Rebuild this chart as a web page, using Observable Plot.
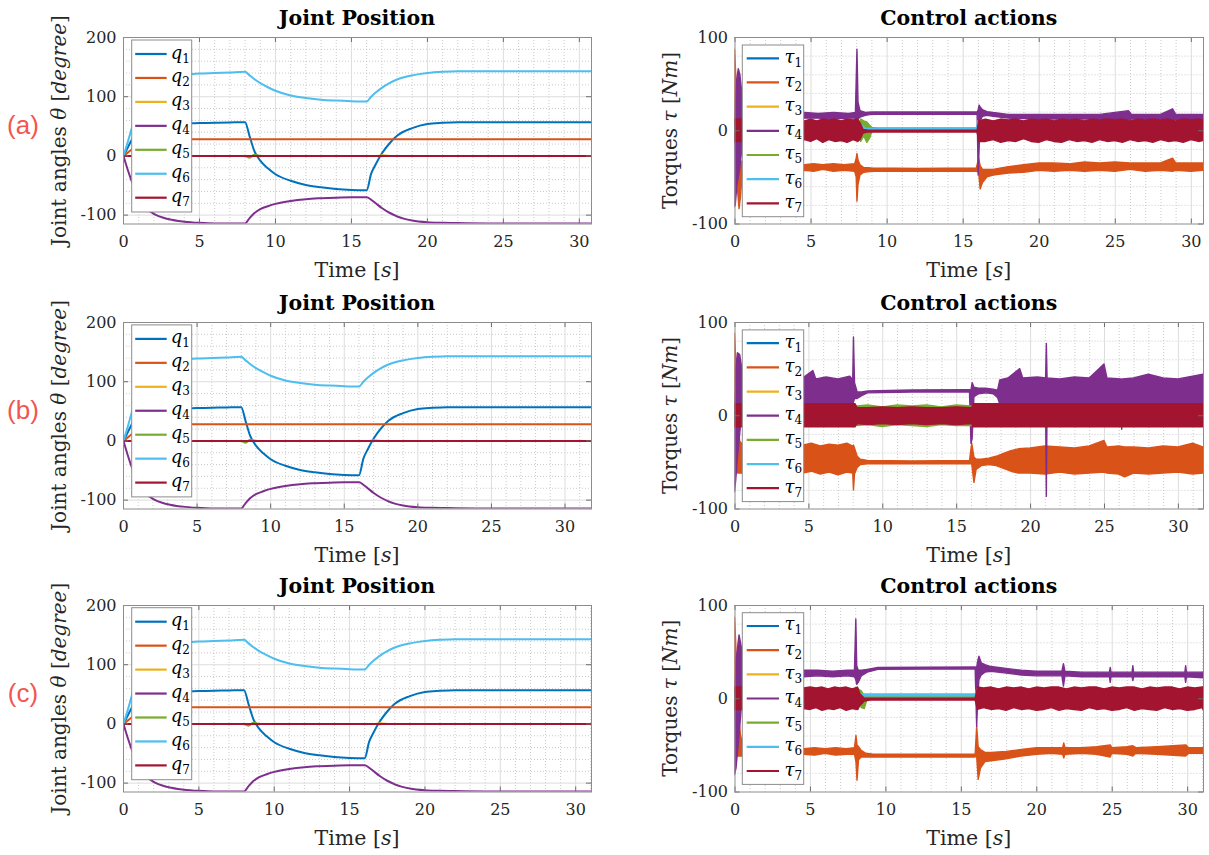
<!DOCTYPE html>
<html>
<head>
<meta charset="utf-8">
<script src="https://cdn.jsdelivr.net/npm/d3@7"></script>
<script src="https://cdn.jsdelivr.net/npm/@observablehq/plot@0.6"></script>
<style>
  body { margin: 0; background: #fff; }
  #fig { position: relative; width: 1209px; height: 855px; overflow: hidden; background: #fff; }
</style>
</head>
<body>
<div id="fig"></div>
<script>
// ---- series colours (q1..q7 / tau1..tau7)
const colors = ["#0072BD", "#D95319", "#EDB120", "#7E2F8E", "#77AC30", "#4DBEEE", "#A2142F"];

// ---- axis ticks
const xTicks = [0, 5, 10, 15, 20, 25, 30];
const jointYTicks = [-100, 0, 100, 200];
const torqueYTicks = [-100, 0, 100];
const rowLetters = ["(a)", "(b)", "(c)"];
const legendSubs = ["1", "2", "3", "4", "5", "6", "7"];

// ---- joint positions [deg], sampled at jointTime [s]
const jointTime = [0, 0.3, 0.6, 1, 1.5, 2, 3, 4, 5, 6, 7, 8,
  8.3, 8.6, 9, 9.5, 10, 11, 12, 13, 14, 15, 16,
  16.3, 16.6, 17, 17.5, 18, 19, 20, 21, 22,
  24, 26, 28, 30, 32];
const q1 = [0, 15, 30, 45, 52, 54, 55, 55, 55.5, 56, 56.5, 57,
  33, 9, -8, -21, -31, -42, -49, -53, -56, -57.5, -58,
  -30, -14, 4, 21, 34, 47, 54, 56, 57,
  57, 57, 57, 57, 57];
const q2 = [0, 6, 12, 20, 25, 27, 28, 28, 28, 28, 28, 28,
  28, 28, 28, 28, 28, 28, 28, 28, 28, 28, 28,
  28, 28, 28, 28, 28, 28, 28, 28, 28,
  28, 28, 28, 28, 28];
const q3 = [0, 0, 0, 0, 0, 0, 0, 0, 0, 0, 0, 0,
  0, 0, 0, 0, 0, 0, 0, 0, 0, 0, 0,
  0, 0, 1, 0, 0, 0, 0, 0, 0,
  0, 0, 0, 0, 0];
const q4 = [0, -25, -47, -70, -88, -98, -107, -111, -113, -114, -114, -114,
  -105, -97, -90, -85, -81, -76, -73, -71.5, -70.5, -70, -70,
  -74, -80, -88, -96, -102, -109, -112, -113, -113.5,
  -114, -114, -114, -114, -114];
const q5 = [0, 0, 0, 0, 0, 0, 0, 0, 0, 0, 0, 0,
  -3, 2, 0, 0, 0, 0, 0, 0, 0, 0, 0,
  0, 0, 0, 0, 0, 0, 0, 0, 0,
  0, 0, 0, 0, 0];
const q6 = [0, 25, 52, 95, 120, 130, 135, 137, 139, 140, 141, 142,
  136, 130, 123, 116, 110, 102, 98, 95, 93.5, 92.5, 92,
  100, 107, 115, 123, 129, 136, 140, 142, 143,
  143, 143, 143, 143, 143];
const q7 = [0, 0, 0, 0, 0, 0, 0, 0, 0, 0, 0, 0,
  0, 0, 0, 0, 0, 0, 0, 0, 0, 0, 0,
  0, 0, 0, 0, 0, 0, 0, 0, 0,
  0, 0, 0, 0, 0];

// ---- joint torques [Nm]: envelope of the signal as [time, low, high]
// run (a)
const tauA1 = [[0,-5,5],[8.2,-5,5],[8.5,-0.5,0.5],[16,-0.5,0.5],[16.2,-5,5],[31,-5,5]];
const tauA2 = [[0,10,87],[0.08,-20,60],[0.18,-60,-5],[0.3,-84,-30],[0.4,-70,-35],[0.5,-48,-33],[0.7,-44,-36],
  [1.5,-43,-37],[3,-44,-37],[4.6,-43,-37],[5.2,-44,-36],[5.8,-42,-37],[6.5,-44,-36],[7.2,-43,-37],[7.9,-44,-36],
  [8.0,-50,-30],[8.05,-76,-25],[8.12,-58,-32],[8.25,-48,-37],[8.5,-45,-40],[9,-44,-40.5],[12,-44,-41],[15.9,-44,-40.5],
  [16.05,-45,-30],[16.15,-63,-38],[16.3,-56,-42],[16.6,-50,-42],[17,-48,-42],[18,-46,-39],[19,-45,-37],[20,-43,-35],
  [21,-44,-35],[22,-43,-36],[23,-44,-34],[24,-43,-35],[25,-44,-34],[26,-42,-35],[27,-44,-35],[28,-43,-35],
  [28.8,-44,-30],[29,-43,-35],[30,-44,-35],[31,-43,-35]];
const tauA3 = [[0,-4,4],[8.2,-4,4],[8.5,0,1],[16,0,1],[16.2,-4,4],[31,-4,4]];
const tauA4 = [[0,-82,0],[0.05,-80,30],[0.15,-60,55],[0.25,-50,66],[0.35,-40,60],[0.45,-25,45],[0.55,-5,30],[0.7,8,22],[1.0,12,19],
  [4.6,13,19],[5.5,13,18],[6.5,12,19],[7.5,13,18],[7.95,13,19],[8.05,10,87],[8.12,12,30],[8.25,14,21],[8.6,16,19],[9,17,19.5],[15.95,17.5,19.5],
  [16.02,-48,22],[16.08,-20,27],[16.15,10,25],[16.3,15,22],[16.6,16,20],[17,15,19],[18,13,17],[20,12,17],[22,12,17],[24,12,17],
  [25.9,11,21],[26.1,12,17],[28,12,17],[28.8,11,23],[29,12,17],[31,11.5,17]];
const tauA5 = [[0,-8,8],[8.2,-8,8],[8.3,-12,12],[8.5,-6,10],[8.7,-13,9],[8.9,-8,5],[9.05,0,3],[9.3,1,2.5],[15.9,1,2.5],
  [16.05,-3,8],[16.3,-8,8],[16.8,-6,9],[31,-8,8]];
const tauA6 = [[0,-6,6],[8.2,-6,6],[8.35,-4,6],[8.6,0,2],[15.9,0.5,2],[16.0,-5,10],[16.15,-3,6],[16.3,-6,6],[31,-6,6]];
const tauA7 = [[0,-12,12],[0.55,-12,12],[0.7,-11,11],[2,-12,12],[4.6,-10,10],[5,-12,12],[5.4,-9,10],[5.8,-13,12],[6.2,-10,11],
  [6.6,-12,12],[7,-11,10],[7.4,-13,12],[7.8,-10,11],[8.1,-12,12],[8.25,-10,8],[8.45,-3,1],[8.8,-1.8,0],[15.95,-1.8,0],
  [16.05,-12,10],[16.5,-12,12],[17,-10,10],[17.5,-13,12],[18,-11,11],[18.5,-12,12],[19,-9,10],[19.5,-12,12],[20,-13,11],
  [20.5,-10,12],[21,-12,10],[21.5,-13,12],[22,-10,11],[22.5,-12,12],[23,-11,10],[23.5,-13,12],[24,-10,11],[24.5,-12,12],
  [25,-11,11],[25.5,-13,12],[26,-10,10],[26.5,-12,12],[27,-11,11],[27.5,-13,12],[28,-10,11],[28.5,-12,12],[29,-11,10],
  [29.5,-13,12],[30,-10,11],[30.5,-12,12],[31,-11,11]];

// run (b)
const tauB1 = [[0,-6,6],[32,-6,6]];
const tauB2 = [[0,10,88],[0.08,-20,60],[0.2,-62,0],[0.35,-62,-28],[0.6,-62,-32],[1.5,-62,-32],[3,-63,-31],
  [4.6,-62,-32],[5.2,-60,-30],[5.8,-63,-33],[6.4,-61,-31],[7,-64,-32],[7.6,-61,-30],[8.0,-62,-33],[8.05,-80,-32],
  [8.12,-63,-35],[8.3,-56,-44],[8.5,-53,-47],[9,-52,-48.5],[12,-52,-49],[15.9,-52,-48.5],
  [16.05,-52,-30],[16.2,-72,-45],[16.35,-58,-47],[16.7,-54,-47],[17.2,-53,-46],[17.7,-54,-44],[18.2,-57,-41],
  [18.7,-60,-38],[19.2,-62,-36],[20,-62,-35],[21,-63,-33],[22,-61,-34],[23,-63,-35],[24,-62,-33],[25,-61,-27],
  [25.2,-62,-34],[26,-63,-33],[26.4,-66,-34],[27,-62,-34],[28,-63,-35],[29,-62,-33],[30,-61,-34],[31,-63,-30],[32,-62,-34]];
const tauB3 = [[0,-5,5],[32,-5,5]];
const tauB4 = [[0,-82,0],[0.08,-70,50],[0.2,-45,67],[0.35,-20,65],[0.5,5,50],[0.7,12,40],[2,12,41],
  [4.6,12,40],[5.3,12,48],[5.5,12,39],[6.2,12,41],[7,12,39],[7.8,12,42],[8.0,12,38],[8.05,14,84],[8.12,18,35],
  [8.3,18,25],[8.6,21,25],[9,24,26],[12,25,27],[15.9,25,27.5],
  [16.0,-30,27],[16.08,-25,35],[16.2,20,30],[16.5,23,29],[17,24,29],[17.5,23,28],[17.8,19,27],[17.95,12,38],
  [18.5,12,40],[19.3,12,50],[19.5,12,40],[20.5,12,41],[21.05,12,40],[21.1,-87,77],[21.15,12,40],[22,12,39],
  [23,12,41],[24,12,40],[25,12,55],[25.2,12,40],[26.15,12,39],[26.2,-15,38],[26.25,12,39],[27,12,40],[28,12,44],
  [29,12,40],[30,12,39],[31,12,42],[32,12,44]];
const tauB5 = [[0,-8,8],[8.2,-8,8],[8.3,-11,10],[9,-10,11],[10,-12,9],[11,-10,11],[12,-11,10],[13,-12,11],
  [14,-10,9],[15,-11,11],[16.0,-11,10],[16.15,-8,8],[32,-8,8]];
const tauB6 = [[0,-6,6],[8.15,-6,6],[8.25,-8,9],[8.4,-5,5],[16.2,-5,5],[16.3,-2,8],[16.45,-5,5],[32,-5,5]];
const tauB7 = [[0,-12.5,12.5],[8.15,-12.5,12.5],[8.3,-9,8],[9,-10,8],[10,-9,9],[11,-10,8],[12,-9,9],[13,-10,8],
  [14,-9,8],[15,-10,9],[16.05,-9,8],[16.15,-12.5,12.5],[32,-12.5,12.5]];

// run (c)
const tauC1 = [[0,-5,5],[8.2,-5,5],[8.5,-0.5,0.5],[16,-0.5,0.5],[16.2,-5,5],[31.5,-5,5]];
const tauC2 = [[0,10,87],[0.08,-30,60],[0.2,-62,-10],[0.4,-62,-40],[0.6,-62,-52],[1.5,-60,-53],
  [4.6,-60,-54],[5.3,-61,-53],[6,-59,-54],[6.7,-61,-53],[7.4,-60,-54],[7.95,-60,-53],[8.05,-68,-40],[8.12,-88,-50],
  [8.22,-66,-52],[8.4,-63,-56],[8.7,-63,-59],[9.2,-63,-60],[12,-63,-60],[15.95,-63,-60],
  [16.05,-62,-30],[16.15,-87,-52],[16.3,-75,-55],[16.6,-68,-58],[17,-67,-58],[18,-65,-57],[19,-62,-55],[20,-60,-53],
  [21,-59,-53],[21.75,-60,-53],[21.82,-64,-48],[21.9,-60,-53],[23,-59,-53],[24,-60,-52],[24.9,-63,-50],[25,-59,-53],
  [26,-60,-52],[26.4,-62,-51],[26.6,-59,-53],[28,-60,-52],[29.9,-62,-50],[30.1,-59,-53],[31.5,-59,-53]];
const tauC3 = [[0,-4,4],[8.2,-4,4],[8.5,0,1],[16.4,0,1],[16.55,-5,5],[16.7,-4,4],[31.5,-4,4]];
const tauC4 = [[0,-82,0],[0.1,-75,40],[0.3,-40,68],[0.45,-10,55],[0.6,15,40],[0.8,22,32],[1.5,23,30],
  [4.6,23,30],[5.5,24,30],[6.5,23,29],[7.5,24,30],[7.95,23,30],[8.04,20,85],[8.1,15,35],[8.2,17,30],[8.4,24,30],
  [8.8,28,31],[9.5,31,33],[15.95,31.5,33.5],
  [16.05,-30,33],[16.12,0,40],[16.2,20,45],[16.35,25,38],[16.6,28,36],[17,29,34],[18,27,32],[19,25,30],[20,24,29],
  [21.7,24,29],[21.8,13,37],[21.9,24,29],[23,23,28],[24.85,23,28],[24.9,17,33],[24.95,23,28],[26.35,23,28],
  [26.4,19,35],[26.45,23,28],[28,23,28],[29.85,23,28],[29.9,17,35],[29.95,23,28],[31.5,22,28]];
const tauC5 = [[0,-8,8],[8.1,-8,8],[8.2,-2,10],[8.4,-10,8],[8.6,-11,3],[8.8,0,2],[9.2,0.5,2],[16,0.5,2],
  [16.2,-8,8],[16.5,-6,10],[16.7,-8,8],[31.5,-8,8]];
const tauC6 = [[0,-6,6],[8.1,-6,6],[8.2,-12,5],[8.35,-4,5],[8.6,2.5,4.5],[15.95,2.5,4.5],[16.05,-3,10],[16.2,-5,6],[31.5,-6,6]];
const tauC7 = [[0,-12,12],[0.55,-12,12],[2,-12,12],[4.6,-11,11],[5,-12,12],[5.4,-10,11],[5.8,-13,12],[6.2,-11,10],
  [6.6,-12,12],[7,-10,11],[7.4,-13,12],[7.8,-11,10],[8.15,-12,12],[8.3,-8,5],[8.6,-3,0],[9,-2,0],[15.95,-2,0],
  [16.1,-12,12],[16.5,-10,11],[17,-12,12],[17.5,-11,10],[18,-13,12],[18.5,-10,11],[19,-12,12],[19.5,-11,10],
  [20,-13,12],[20.5,-12,11],[21,-10,12],[21.5,-13,12],[22,-11,10],[22.5,-12,12],[23,-13,11],[23.5,-10,12],
  [24,-12,12],[24.5,-11,10],[25,-13,12],[25.5,-12,11],[26,-10,12],[26.5,-13,12],[27,-11,10],[27.5,-12,12],
  [28,-13,11],[28.5,-10,12],[29,-12,12],[29.5,-11,10],[30,-13,12],[30.5,-12,11],[31,-10,12],[31.5,-12,12]];

const jointSeries = [q1, q2, q3, q4, q5, q6, q7];
const torqueRuns = [
  [tauA1, tauA2, tauA3, tauA4, tauA5, tauA6, tauA7],
  [tauB1, tauB2, tauB3, tauB4, tauB5, tauB6, tauB7],
  [tauC1, tauC2, tauC3, tauC4, tauC5, tauC6, tauC7]
];

// ---- layout
const rowTop = [37.3, 322.2, 605];
const jointXMax = [30.8, 31.8, 31.05];
const torqueXMax = [30.8, 31.7, 31.05];
const plotH = 186.5;
const mT = 10, mB = 40;
const FONT = "'DejaVu Serif', serif";

function range(a, b, step) { const r = []; for (let v = a; v <= b + 1e-9; v += step) r.push(+v.toFixed(6)); return r; }

function axesPanel({left, top, mL, pw, mR, xMax, yDomain, yTicks, yMinorStep, marks}) {
  const xMinor = range(0, Math.floor(xMax), 1).filter(v => v % 5 !== 0);
  const yMinor = range(Math.ceil(yDomain[0] / yMinorStep) * yMinorStep, yDomain[1], yMinorStep).filter(v => v % 100 !== 0);
  const svg = Plot.plot({
    width: mL + pw + mR,
    height: mT + plotH + mB,
    marginLeft: mL, marginRight: mR, marginTop: mT, marginBottom: mB,
    style: {fontFamily: FONT, fontSize: "16px", color: "#262626", background: "transparent", overflow: "visible"},
    x: {domain: [0, xMax], clamp: true, ticks: xTicks, tickFormat: d => String(d), tickSize: 0, tickPadding: 12, label: null},
    y: {domain: yDomain, ticks: yTicks, tickFormat: d => String(d), tickSize: 0, tickPadding: 7, label: null},
    marks: [
      Plot.ruleX(xMinor, {stroke: "#bcbcbc", strokeWidth: 0.8, strokeDasharray: "1,2"}),
      Plot.ruleY(yMinor, {stroke: "#bcbcbc", strokeWidth: 0.8, strokeDasharray: "1,2"}),
      Plot.ruleX(xTicks.filter(t => t > 0 && t < xMax), {stroke: "#dddddd"}),
      Plot.ruleY(yTicks.filter(t => t > yDomain[0] && t < yDomain[1]), {stroke: "#dddddd"}),
      ...marks,
      Plot.tickX(xTicks, {x: d => d, insetTop: plotH - 5, stroke: "#6e6e6e"}),
      Plot.tickX(xTicks, {x: d => d, insetBottom: plotH - 5, stroke: "#6e6e6e"}),
      Plot.tickY(yTicks, {y: d => d, insetRight: pw - 5, stroke: "#6e6e6e"}),
      Plot.tickY(yTicks, {y: d => d, insetLeft: pw - 5, stroke: "#6e6e6e"}),
      Plot.frame({stroke: "#8c8c8c"})
    ]
  });
  svg.style.position = "absolute";
  svg.style.left = left + "px";
  svg.style.top = (top - mT) + "px";
  document.getElementById("fig").appendChild(svg);
}

rowTop.forEach((top, r) => {
  // joint position panel
  axesPanel({
    left: 0, top, mL: 123, pw: 468, mR: 10,
    xMax: jointXMax[r], yDomain: [-115, 200], yTicks: jointYTicks, yMinorStep: 20,
    marks: jointSeries.map((s, k) => Plot.line(jointTime.map((t, i) => [t, s[i]]), {
      x: d => d[0], y: d => d[1], stroke: colors[k], strokeWidth: 2, curve: "monotone-x", clip: true
    }))
  });
  // control action panel
  axesPanel({
    left: 610, top, mL: 124.5, pw: 468.5, mR: 6,
    xMax: torqueXMax[r], yDomain: [-100, 100], yTicks: torqueYTicks, yMinorStep: 20,
    marks: torqueRuns[r].map((s, k) => Plot.areaY(s, {
      x: d => d[0], y1: d => d[1], y2: d => d[2],
      fill: colors[k], stroke: colors[k], strokeWidth: 1.4, strokeLinejoin: "round", clip: true
    }))
  });
});

// ---- titles, axis labels, legends and run letters
const ov = d3.select("#fig").append("svg")
  .attr("width", 1209).attr("height", 855)
  .style("position", "absolute").style("left", "0px").style("top", "0px")
  .style("font-family", FONT);

function rich(g, parts) {
  parts.forEach(([txt, italic]) => {
    const t = g.append("tspan").text(txt);
    if (italic) t.attr("font-style", "italic");
  });
  return g;
}

const leftCx = 123 + 468 / 2, rightCx = 734.5 + 468.5 / 2;

rowTop.forEach((top, r) => {
  const bottom = top + plotH, cy = top + plotH / 2;

  ov.append("text").attr("x", leftCx).attr("y", top - 12.5).attr("text-anchor", "middle")
    .attr("font-size", 20.5).attr("font-weight", "bold").attr("fill", "#000").text("Joint Position");
  ov.append("text").attr("x", rightCx).attr("y", top - 12.5).attr("text-anchor", "middle")
    .attr("font-size", 20.5).attr("font-weight", "bold").attr("fill", "#000").text("Control actions");

  [leftCx, rightCx].forEach(cx => {
    rich(ov.append("text").attr("x", cx).attr("y", bottom + 53).attr("text-anchor", "middle")
      .attr("font-size", 20.5).attr("fill", "#262626"), [["Time [", false], ["s", true], ["]", false]]);
  });

  rich(ov.append("text").attr("transform", `translate(65.5,${cy}) rotate(-90)`).attr("text-anchor", "middle")
    .attr("font-size", 20).attr("fill", "#262626"),
    [["Joint angles ", false], ["θ", true], [" [", false], ["degree", true], ["]", false]]);
  rich(ov.append("text").attr("transform", `translate(677,${cy}) rotate(-90)`).attr("text-anchor", "middle")
    .attr("font-size", 20).attr("fill", "#262626"),
    [["Torques ", false], ["τ", true], [" [", false], ["Nm", true], ["]", false]]);

  ov.append("text").attr("x", 23).attr("y", top + 87.5 + 9).attr("text-anchor", "middle")
    .attr("font-family", "'Liberation Sans', Arial, sans-serif").attr("font-size", 26)
    .attr("fill", "#f2564f").text(rowLetters[r]);

  // legends
  const legends = [
    {x: 131.7, y: top + 2.7, w: 60, h: 172, first: 14, step: 23.95, l0: 3.5, l1: 35, tx: 39, sym: "q"},
    {x: 742.3, y: top + 7.7, w: 61.4, h: 171.7, first: 13.3, step: 24.17, l0: 4.4, l1: 36.7, tx: 42.2, sym: "τ"}
  ];
  legends.forEach(L => {
    const g = ov.append("g").attr("transform", `translate(${L.x},${L.y})`);
    g.append("rect").attr("x", 0).attr("y", 0).attr("width", L.w).attr("height", L.h)
      .attr("fill", "#fff").attr("stroke", "#8c8c8c").attr("stroke-width", 1);
    legendSubs.forEach((sub, k) => {
      const ey = L.first + k * L.step;
      g.append("line").attr("x1", L.l0).attr("x2", L.l1).attr("y1", ey).attr("y2", ey)
        .attr("stroke", colors[k]).attr("stroke-width", 2.2);
      const t = g.append("text").attr("x", L.tx).attr("y", ey + 4.5).attr("font-size", 18).attr("fill", "#000");
      t.append("tspan").attr("font-style", "italic").text(L.sym);
      t.append("tspan").attr("font-size", 12).attr("dy", 4).text(sub);
    });
  });
});
</script>
</body>
</html>
